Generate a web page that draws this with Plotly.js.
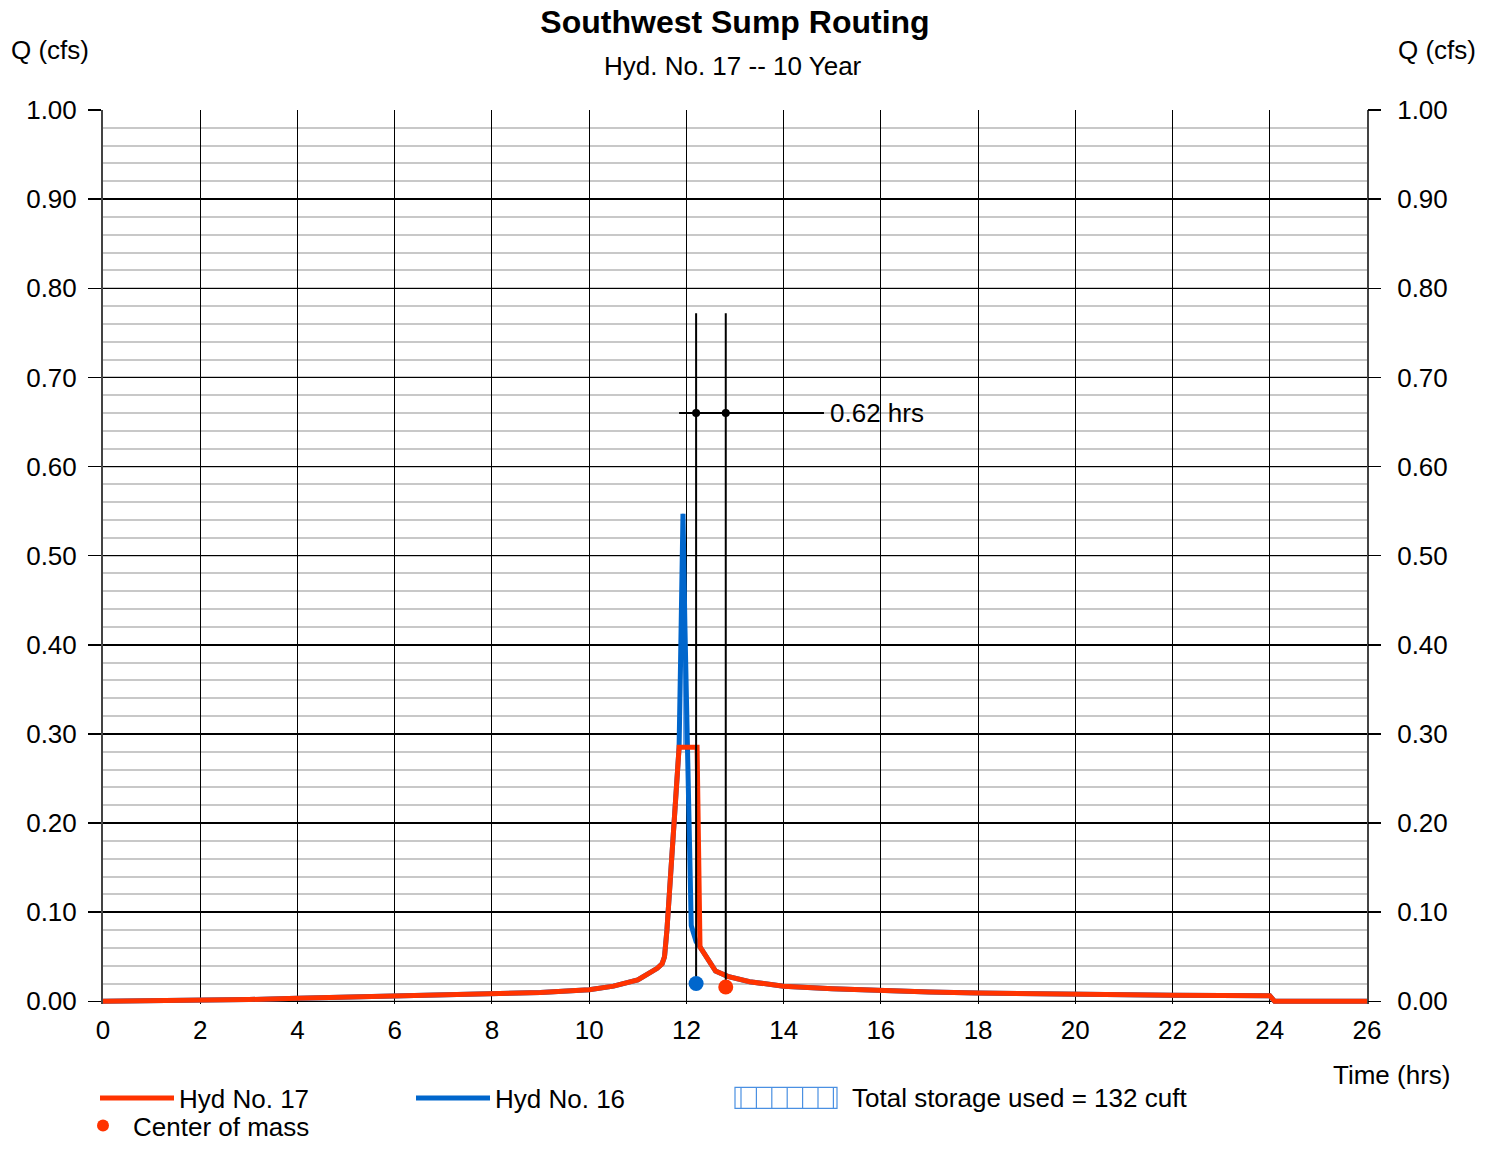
<!DOCTYPE html>
<html>
<head>
<meta charset="utf-8">
<script src="https://cdn.plot.ly/plotly-3.0.1.min.js"></script>
<style>
  html, body { margin: 0; padding: 0; background: #ffffff; }
  #chart { width: 1496px; height: 1149px; }
</style>
</head>
<body>
<div id="chart"></div>
<script>
// ---------------- DATA ----------------
// Hyd No. 17 (outflow, red)
const timeHyd17 = [0, 1, 2, 3, 4, 5, 6, 7, 8, 9, 10, 10.5, 11, 11.2, 11.4, 11.5, 11.55, 11.6, 11.65, 11.7, 11.75, 11.8, 11.85,
  12.22, 12.28, 12.6, 12.85, 13.3, 14, 15, 16, 17, 18, 19, 20, 21, 22, 23, 24, 24.1, 26];
const qHyd17 = [0, 0.0003, 0.001, 0.002, 0.0034, 0.0045, 0.0056, 0.0068, 0.008, 0.010, 0.013, 0.017, 0.024, 0.030, 0.037, 0.042, 0.05, 0.08, 0.12, 0.155, 0.19, 0.235, 0.285,
  0.285, 0.061, 0.034, 0.028, 0.022, 0.017, 0.014, 0.0116, 0.0104, 0.0093, 0.0084, 0.0076, 0.0071, 0.0067, 0.0065, 0.0063, 0, 0];

// Hyd No. 16 (inflow, blue)
const timeHyd16 = [0, 1, 2, 3, 4, 5, 6, 7, 8, 9, 10, 10.5, 11, 11.2, 11.4, 11.5, 11.55, 11.6, 11.65, 11.7, 11.75, 11.8, 11.85,
  11.88, 11.91, 11.93, 11.97, 12.0, 12.03, 12.06, 12.1, 12.2, 12.28, 12.6, 12.85, 13.3, 14, 15, 16, 17, 18, 19, 20, 21, 22, 23, 24, 24.1, 26];
const qHyd16 = [0, 0.0003, 0.001, 0.002, 0.0034, 0.0045, 0.0056, 0.0068, 0.008, 0.010, 0.013, 0.017, 0.024, 0.030, 0.037, 0.042, 0.05, 0.08, 0.12, 0.155, 0.19, 0.235, 0.285,
  0.38, 0.49, 0.547, 0.42, 0.33, 0.22, 0.13, 0.085, 0.067, 0.061, 0.034, 0.028, 0.022, 0.017, 0.014, 0.0116, 0.0104, 0.0093, 0.0084, 0.0076, 0.0071, 0.0067, 0.0065, 0.0063, 0, 0];

// Storage used (inflow above outflow)
const storageTime = [11.85, 11.88, 11.91, 11.93, 11.97, 12.0, 12.015, 11.85];
const storageQ = [0.285, 0.38, 0.49, 0.547, 0.42, 0.33, 0.285, 0.285];
const storageLabel = 'Total storage used = 132 cuft';

// Centers of mass
const comTimeHyd16 = 12.20, comQHyd16 = 0.020;
const comTimeHyd17 = 12.81, comQHyd17 = 0.016;
const comLineTop = 0.772;
const lagQ = 0.66;
const lagLineX = [11.85, 14.83];
const lagLabel = '0.62 hrs';

// Axis ticks
const yTicks = [0, 0.1, 0.2, 0.3, 0.4, 0.5, 0.6, 0.7, 0.8, 0.9, 1.0];
const yTickText = ['0.00', '0.10', '0.20', '0.30', '0.40', '0.50', '0.60', '0.70', '0.80', '0.90', '1.00'];
const xTicks = [0, 2, 4, 6, 8, 10, 12, 14, 16, 18, 20, 22, 24, 26];

// ---------------- STYLE ----------------
const RED = '#ff3300';
const BLUE = '#0066cc';
const HATCH = '#4a90e2';
const FONT = 'Liberation Sans, Arial, Helvetica, sans-serif';

const traces = [
  { // storage fill
    x: storageTime, y: storageQ, type: 'scatter', mode: 'lines',
    fill: 'toself', fillcolor: 'rgba(255,255,255,0)',
    fillpattern: { shape: '|', fgcolor: HATCH, bgcolor: '#ffffff', size: 14, solidity: 0.12 },
    line: { color: HATCH, width: 1 },
    name: storageLabel, showlegend: false, hoverinfo: 'skip'
  },
  { // Hyd 16
    x: timeHyd16, y: qHyd16, type: 'scatter', mode: 'lines',
    line: { color: BLUE, width: 5, shape: 'linear' },
    name: 'Hyd No. 16', legend: 'legend', legendrank: 2
  },
  { // Hyd 17
    x: timeHyd17, y: qHyd17, type: 'scatter', mode: 'lines',
    line: { color: RED, width: 5, shape: 'linear' },
    name: 'Hyd No. 17', legend: 'legend', legendrank: 1
  },
  { // COM vertical lines
    x: [comTimeHyd16, comTimeHyd16, null, comTimeHyd17, comTimeHyd17],
    y: [comQHyd16, comLineTop, null, comQHyd17, comLineTop],
    type: 'scatter', mode: 'lines', line: { color: '#000000', width: 2 },
    showlegend: false, hoverinfo: 'skip'
  },
  { // lag horizontal line
    x: lagLineX, y: [lagQ, lagQ], type: 'scatter', mode: 'lines',
    line: { color: '#000000', width: 2 }, showlegend: false, hoverinfo: 'skip', yaxis: 'y2'
  },
  { // lag dots
    x: [comTimeHyd16, comTimeHyd17], y: [lagQ, lagQ], type: 'scatter', mode: 'markers',
    marker: { color: '#000000', size: 8 }, showlegend: false, hoverinfo: 'skip'
  },
  { // COM blue
    x: [comTimeHyd16], y: [comQHyd16], type: 'scatter', mode: 'markers',
    marker: { color: BLUE, size: 15 }, showlegend: false, name: 'Center of mass (Hyd 16)'
  },
  { // COM red
    x: [comTimeHyd17], y: [comQHyd17], type: 'scatter', mode: 'markers',
    marker: { color: RED, size: 15 }, name: 'Center of mass', legend: 'legend2'
  }
];

// plot area in pixels
const W = 1496, H = 1149;
const L = 103, R = 129, T = 110;
const Y0PX = 1001;           // pixel of Q = 0
const PXPERQ = 891;          // pixels per 1.0 cfs
const YMIN = -0.003;
const bottomPx = Y0PX - YMIN * PXPERQ;
const B = H - bottomPx;
const plotH = bottomPx - T;
const plotW = W - L - R;
const px2paperX = (px) => (px - L) / plotW;
const px2paperY = (py) => (bottomPx - py) / plotH;
const cx = (px) => px / W;
const cy = (py) => 1 - py / H;

const yaxisCommon = {
  range: [YMIN, 1.0],
  tickmode: 'array', tickvals: yTicks, ticktext: yTickText,
  ticks: 'outside', ticklen: 13, tickwidth: 1.5, tickcolor: '#000000',
  tickfont: { family: FONT, size: 26, color: '#000000' },
  fixedrange: true
};

// legend symbol for storage (hatched box), drawn in paper space
const boxL = 735, boxR = 837, boxT = 1087, boxB = 1108;
const shapes = [{
  type: 'rect', xref: 'paper', yref: 'paper',
  x0: px2paperX(boxL), x1: px2paperX(boxR), y0: px2paperY(boxB), y1: px2paperY(boxT),
  line: { color: HATCH, width: 1.2 }, fillcolor: '#ffffff'
}];
for (let k = 0; k < 7; k++) {
  const xp = 741 + k * 15.4;
  shapes.push({
    type: 'line', xref: 'paper', yref: 'paper',
    x0: px2paperX(xp), x1: px2paperX(xp), y0: px2paperY(boxB), y1: px2paperY(boxT),
    line: { color: HATCH, width: 1.2 }
  });
}

const layout = {
  width: W, height: H,
  margin: { l: L, r: R, t: T, b: B, pad: 0, autoexpand: false },
  paper_bgcolor: '#ffffff', plot_bgcolor: '#ffffff',
  font: { family: FONT, size: 26, color: '#000000' },
  title: {
    text: 'Southwest Sump Routing',
    font: { family: FONT, size: 32, color: '#000000', weight: 700 },
    x: px2paperX(735), xref: 'paper', xanchor: 'center',
    y: 1 - 22 / H, yref: 'container', yanchor: 'middle'
  },
  xaxis: {
    range: [0, 26], tickmode: 'array', tickvals: xTicks,
    showgrid: true, gridcolor: '#000000', gridwidth: 1,
    zeroline: false, showline: false, ticks: '',
    ticklabelstandoff: 8,
    tickfont: { family: FONT, size: 26, color: '#000000' },
    fixedrange: true
  },
  yaxis: Object.assign({}, yaxisCommon, {
    side: 'left',
    showgrid: true, gridcolor: '#000000', gridwidth: 1.5,
    minor: { tickmode: 'linear', tick0: 0, dtick: 0.02, showgrid: true, gridcolor: '#c8c8c8', gridwidth: 2, ticks: '' },
    zeroline: true, zerolinecolor: '#000000', zerolinewidth: 1.5,
    showline: true, linecolor: '#444444', linewidth: 2, mirror: true,
    ticklabelstandoff: 6
  }),
  yaxis2: Object.assign({}, yaxisCommon, {
    overlaying: 'y', side: 'right', anchor: 'x',
    showgrid: false, zeroline: false, showline: false,
    ticklabelstandoff: 11
  }),
  showlegend: true,
  legend: {
    orientation: 'h', x: cx(95), xanchor: 'left', xref: 'container',
    y: cy(1098), yanchor: 'middle', yref: 'container',
    itemwidth: 74, entrywidth: 227, entrywidthmode: 'pixels',
    font: { family: FONT, size: 26, color: '#000000' },
    bgcolor: 'rgba(0,0,0,0)', borderwidth: 0, traceorder: 'normal',
    itemclick: false, itemdoubleclick: false
  },
  legend2: {
    orientation: 'h', x: cx(73), xanchor: 'left', xref: 'container',
    y: -0.0035, yanchor: 'bottom', yref: 'container',
    itemwidth: 50, itemsizing: 'constant',
    font: { family: FONT, size: 26, color: '#000000' },
    bgcolor: 'rgba(0,0,0,0)', borderwidth: 0,
    itemclick: false, itemdoubleclick: false
  },
  shapes: shapes,
  annotations: [
    { text: 'Hyd. No. 17 -- 10 Year', xref: 'paper', yref: 'paper', x: px2paperX(733), y: px2paperY(66),
      xanchor: 'center', yanchor: 'middle', showarrow: false, font: { family: FONT, size: 26, color: '#000000' } },
    { text: 'Q (cfs)', xref: 'paper', yref: 'paper', x: px2paperX(50), y: px2paperY(50),
      xanchor: 'center', yanchor: 'middle', showarrow: false, font: { family: FONT, size: 26, color: '#000000' } },
    { text: 'Q (cfs)', xref: 'paper', yref: 'paper', x: px2paperX(1437), y: px2paperY(50),
      xanchor: 'center', yanchor: 'middle', showarrow: false, font: { family: FONT, size: 26, color: '#000000' } },
    { text: 'Time (hrs)', xref: 'paper', yref: 'paper', x: px2paperX(1391), y: px2paperY(1075),
      xanchor: 'center', yanchor: 'middle', showarrow: false, font: { family: FONT, size: 26, color: '#000000' } },
    { text: storageLabel, xref: 'paper', yref: 'paper', x: px2paperX(850), y: px2paperY(1098),
      xanchor: 'left', yanchor: 'middle', showarrow: false, font: { family: FONT, size: 26, color: '#000000' } },
    { text: lagLabel, xref: 'x', yref: 'y', x: lagLineX[1], y: lagQ, xshift: 4,
      xanchor: 'left', yanchor: 'middle', showarrow: false, font: { family: FONT, size: 26, color: '#000000' } }
  ]
};

Plotly.newPlot('chart', traces, layout, { staticPlot: true, displayModeBar: false });
</script>
</body>
</html>
